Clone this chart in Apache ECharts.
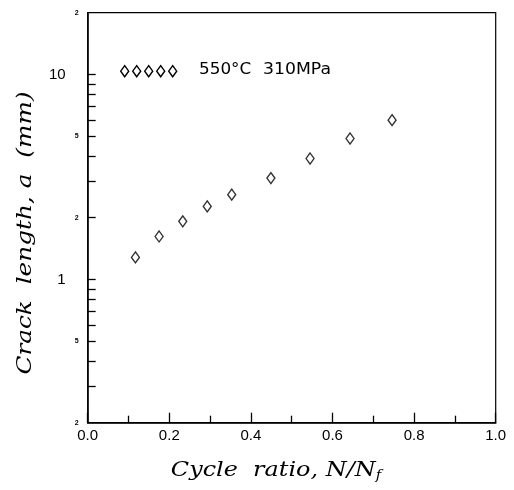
<!DOCTYPE html>
<html>
<head>
<meta charset="utf-8">
<script src="https://cdn.jsdelivr.net/npm/echarts@6/dist/echarts.min.js"></script>
<style>
  html, body { margin: 0; padding: 0; background: #fff; }
  #chart { width: 514px; height: 490px; }
</style>
</head>
<body>
<div id="chart"></div>
<script>
// Crack growth at 550°C, 310 MPa: crack length vs. cycle ratio
const cycleRatio  = [0.117, 0.175, 0.233, 0.293, 0.353, 0.449, 0.545, 0.643, 0.746];
const crackLength = [1.28, 1.62, 1.92, 2.27, 2.59, 3.12, 3.89, 4.87, 5.98];

const yLabelValues = [0.2, 0.5, 1, 2, 5, 10, 20];
const yTickValues  = [0.3, 0.4, 0.5, 0.6, 0.7, 0.8, 0.9, 1, 2, 3, 4, 5, 6, 7, 8, 9, 10];
const legendTemp   = '550°C';
const legendStress = '310MPa';

const chart = echarts.init(document.getElementById('chart'), null, { renderer: 'canvas' });

const points = cycleRatio.map((x, i) => [x, crackLength[i]]);

// legend: five open diamonds followed by the test condition
const legendDiamonds = [0, 1, 2, 3, 4].map(i => ({
  type: 'polygon',
  left: 120 + i * 12,
  top: 65,
  shape: { points: [[4, 0], [8, 5.5], [4, 11], [0, 5.5]] },
  style: { fill: '#fff', stroke: '#000', lineWidth: 1.4 }
}));

// log-axis label: decades in full size, intermediate values as a small leading digit
function yLabel(v) {
  const n = Math.round(v * 10) / 10;
  if (n === 1 || n === 10) return '{big|' + n + '}';
  const digit = n >= 1 ? String(n)[0] : String(n).replace('0.', '');
  return '{small|' + digit + '}';
}

chart.setOption({
  animation: false,
  backgroundColor: '#fff',
  grid: {
    left: 87.7, right: 18.3, top: 12.7, bottom: 67.3,
    show: true, borderColor: '#000', borderWidth: 1.2,
    outerBoundsMode: 'none'
  },
  xAxis: {
    type: 'value',
    min: 0, max: 1, interval: 0.2,
    axisLine: { show: true, onZero: false, lineStyle: { color: '#000', width: 1.5 } },
    axisTick: { show: true, inside: true, length: 10, lineStyle: { color: '#000', width: 1.3 } },
    minorTick: { show: true, splitNumber: 2, length: 7, lineStyle: { color: '#000', width: 1.3 } },
    splitLine: { show: false },
    axisLabel: {
      margin: 6,
      color: '#000',
      fontFamily: 'Liberation Sans',
      fontSize: 15,
      formatter: v => v.toFixed(1)
    }
  },
  yAxis: {
    type: 'log',
    logBase: 10,
    min: 0.2, max: 20,
    axisLine: { show: true, onZero: false, lineStyle: { color: '#000', width: 1.5 } },
    axisTick: {
      show: true, inside: true, length: 8,
      customValues: yTickValues,
      lineStyle: { color: '#000', width: 1.3 }
    },
    splitLine: { show: false },
    axisLabel: {
      margin: 9,
      customValues: yLabelValues,
      color: '#000',
      formatter: yLabel,
      rich: {
        big: { fontFamily: 'Liberation Sans', fontSize: 15, color: '#000', padding: [0, 13, 0, 0] },
        small: { fontFamily: 'Liberation Sans', fontSize: 7, fontWeight: 'bold', color: '#000' }
      }
    }
  },
  series: [{
    type: 'scatter',
    data: points,
    symbol: 'diamond',
    symbolSize: [8, 11],
    itemStyle: { color: '#fff', borderColor: '#000', borderWidth: 1.4 }
  }],
  graphic: [
    ...legendDiamonds,
    {
      type: 'text',
      x: 199, y: 70, scaleX: 1.12,
      style: { text: legendTemp, font: '15px "DejaVu Sans"', fill: '#000', verticalAlign: 'middle' }
    },
    {
      type: 'text',
      x: 263, y: 70, scaleX: 1.15,
      style: { text: legendStress, font: '15px "DejaVu Sans"', fill: '#000', verticalAlign: 'middle' }
    },
    {
      type: 'text',
      x: 276, y: 471, scaleX: 1.14,
      style: {
        text: '{t|Cycle  ratio, N/N}{s|f}',
        align: 'center', verticalAlign: 'middle',
        rich: {
          t: { font: 'italic 21px "DejaVu Serif"', fill: '#000' },
          s: { font: 'italic 13px "DejaVu Serif"', fill: '#000', padding: [9, 0, 0, 0] }
        }
      }
    },
    {
      type: 'text',
      x: 26, y: 233, scaleX: 1.18,
      rotation: Math.PI / 2,
      style: {
        text: 'Crack  length, a  (mm)',
        align: 'center', verticalAlign: 'middle',
        font: 'italic 21px "DejaVu Serif"', fill: '#000'
      }
    }
  ]
});
</script>
</body>
</html>
